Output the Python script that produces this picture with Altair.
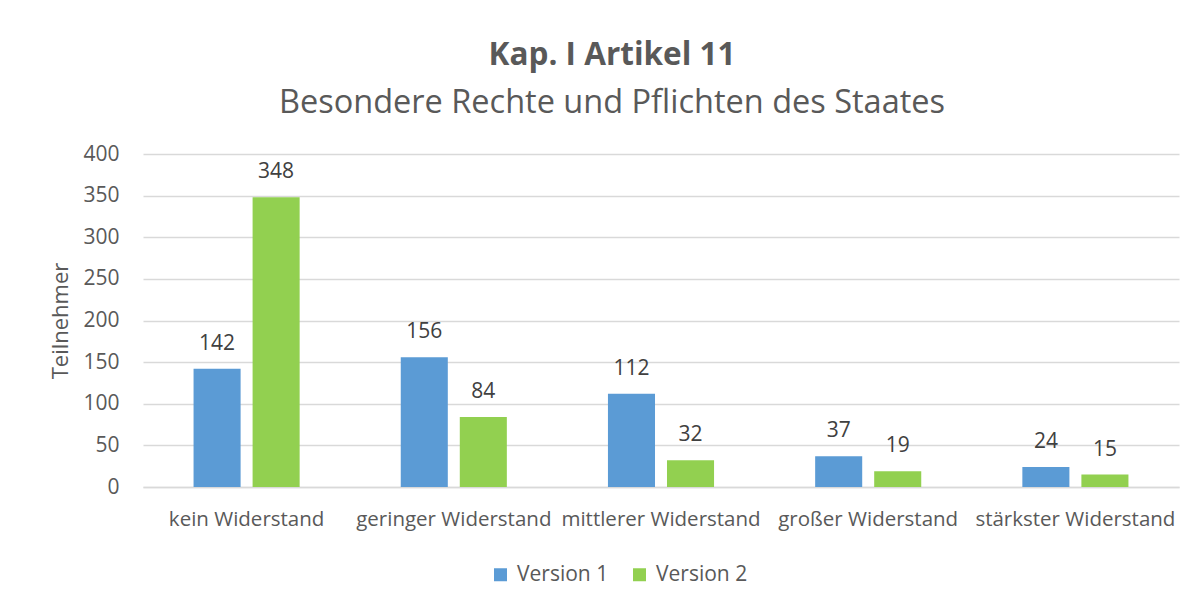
import altair as alt
import pandas as pd

categories = ["kein Widerstand", "geringer Widerstand", "mittlerer Widerstand",
              "großer Widerstand", "stärkster Widerstand"]
series = ["Version 1", "Version 2"]
version1 = [142, 156, 112, 37, 24]
version2 = [348, 84, 32, 19, 15]
y_ticks = [0, 50, 100, 150, 200, 250, 300, 350, 400]
colors = ["#5B9BD5", "#92D050"]

rows = []
for c, a, b in zip(categories, version1, version2):
    rows.append({"Kategorie": c, "Serie": series[0], "Wert": a})
    rows.append({"Kategorie": c, "Serie": series[1], "Wert": b})
df = pd.DataFrame(rows)

FONT = "Open Sans"
GREY = "#595959"

x = alt.X("Kategorie:N", sort=categories,
          scale=alt.Scale(paddingInner=0.488, paddingOuter=0.244),
          axis=alt.Axis(title=None, labelAngle=0, labelFontSize=20.5, labelColor=GREY,
                        labelFont=FONT, labelPadding=22, ticks=False, grid=False,
                        domainColor="#d9d9d9", domainWidth=1.5, labelLimit=400))
xo = alt.XOffset("Serie:N", sort=series,
                 scale=alt.Scale(paddingInner=0.203, paddingOuter=0))
y = alt.Y("Wert:Q", scale=alt.Scale(domain=[0, 400]),
          axis=alt.Axis(values=y_ticks, title="Teilnehmer", titleFontSize=22,
                        titleFont=FONT, titleColor=GREY, titleFontWeight="normal",
                        titlePadding=10, labelFontSize=21, labelFont=FONT,
                        labelColor=GREY, labelPadding=24, ticks=False, domain=False,
                        grid=True, gridColor="#d9d9d9", gridWidth=1.3))

color = alt.Color("Serie:N", sort=series,
                  scale=alt.Scale(domain=series, range=colors),
                  legend=alt.Legend(title=None, orient="none", direction="horizontal",
                                    legendX=347, legendY=410, symbolType="square",
                                    symbolSize=169, symbolStrokeWidth=0,
                                    labelFontSize=21, labelFont=FONT, labelColor=GREY,
                                    labelOffset=6, columnPadding=20))

base = alt.Chart(df)
bars = base.mark_bar().encode(x=x, xOffset=xo, y=y, color=color)
labels = base.mark_text(dy=-25, fontSize=21, font=FONT, color="#404040",
                        baseline="middle").encode(
    x=x, xOffset=xo, y=y, text=alt.Text("Wert:Q"))

chart = (bars + labels).properties(
    width=1036, height=333,
    title=alt.TitleParams(text="Kap. I Artikel 11",
                          subtitle="Besondere Rechte und Pflichten des Staates",
                          fontSize=31.5, subtitleFontSize=32.5, font=FONT, subtitleFont=FONT,
                          fontWeight="bold", subtitleFontWeight="normal",
                          color=GREY, subtitleColor=GREY, anchor="middle",
                          offset=24, subtitlePadding=15, dx=-49),
    autosize=alt.AutoSizeParams(type="none"),
    padding={"left": 135, "top": 146, "right": 4, "bottom": 110},
).configure(background="white").configure_view(stroke="transparent", strokeWidth=0)

chart.save("out.html", embed_options={"renderer": "svg", "actions": False})
